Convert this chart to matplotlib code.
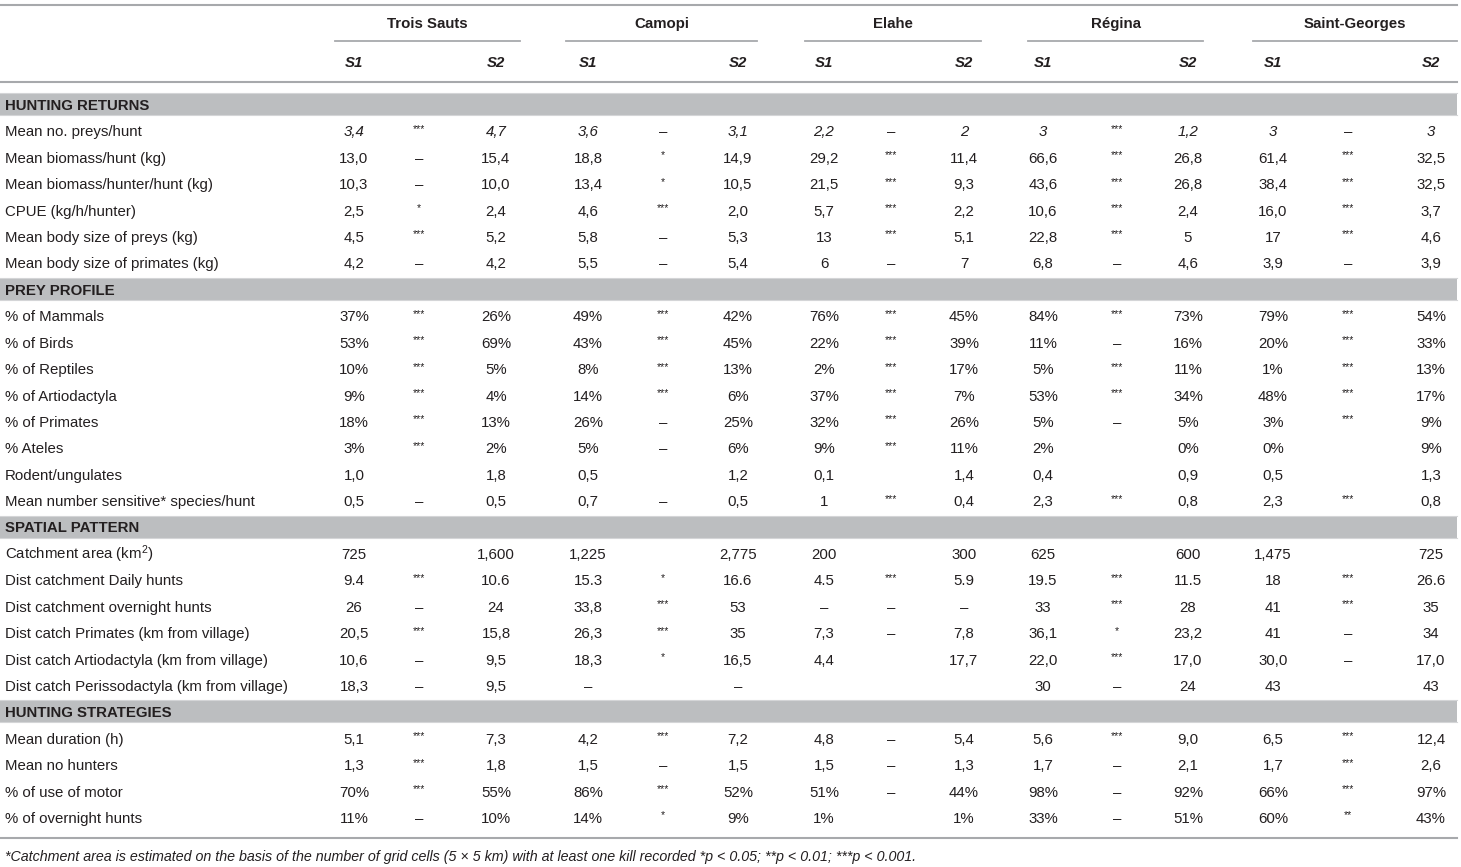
import matplotlib
matplotlib.use("Agg")
import matplotlib.pyplot as plt

plt.rcParams['font.family'] = ['Liberation Sans', 'DejaVu Sans']
plt.rcParams['mathtext.fontset'] = 'custom'
plt.rcParams['mathtext.rm'] = 'Liberation Sans'
plt.rcParams['mathtext.it'] = 'Liberation Sans:italic'

# ---- data ----
villages = ['Trois Sauts', 'Camopi', 'Elahe', 'Régina', 'Saint-Georges']

sections = ['HUNTING RETURNS', 'PREY PROFILE', 'SPATIAL PATTERN', 'HUNTING STRATEGIES']
section_sizes = [6, 8, 6, 4]

row_labels = [
    'Mean no. preys/hunt', 'Mean biomass/hunt (kg)', 'Mean biomass/hunter/hunt (kg)',
    'CPUE (kg/h/hunter)', 'Mean body size of preys (kg)', 'Mean body size of primates (kg)',
    '% of Mammals', '% of Birds', '% of Reptiles', '% of Artiodactyla', '% of Primates',
    '% Ateles', 'Rodent/ungulates', 'Mean number sensitive* species/hunt',
    'Catchment area (km$^{2}$)', 'Dist catchment Daily hunts', 'Dist catchment overnight hunts',
    'Dist catch Primates (km from village)', 'Dist catch Artiodactyla (km from village)',
    'Dist catch Perissodactyla (km from village)',
    'Mean duration (h)', 'Mean no hunters', '% of use of motor', '% of overnight hunts',
]

ts_s1 = ['3,4', '13,0', '10,3', '2,5', '4,5', '4,2', '37%', '53%', '10%', '9%', '18%', '3%',
         '1,0', '0,5', '725', '9.4', '26', '20,5', '10,6', '18,3', '5,1', '1,3', '70%', '11%']
ts_sig = ['***', '–', '–', '*', '***', '–', '***', '***', '***', '***', '***', '***',
          '', '–', '', '***', '–', '***', '–', '–', '***', '***', '***', '–']
ts_s2 = ['4,7', '15,4', '10,0', '2,4', '5,2', '4,2', '26%', '69%', '5%', '4%', '13%', '2%',
         '1,8', '0,5', '1,600', '10.6', '24', '15,8', '9,5', '9,5', '7,3', '1,8', '55%', '10%']

ca_s1 = ['3,6', '18,8', '13,4', '4,6', '5,8', '5,5', '49%', '43%', '8%', '14%', '26%', '5%',
         '0,5', '0,7', '1,225', '15.3', '33,8', '26,3', '18,3', '–', '4,2', '1,5', '86%', '14%']
ca_sig = ['–', '*', '*', '***', '–', '–', '***', '***', '***', '***', '–', '–',
          '', '–', '', '*', '***', '***', '*', '', '***', '–', '***', '*']
ca_s2 = ['3,1', '14,9', '10,5', '2,0', '5,3', '5,4', '42%', '45%', '13%', '6%', '25%', '6%',
         '1,2', '0,5', '2,775', '16.6', '53', '35', '16,5', '–', '7,2', '1,5', '52%', '9%']

el_s1 = ['2,2', '29,2', '21,5', '5,7', '13', '6', '76%', '22%', '2%', '37%', '32%', '9%',
         '0,1', '1', '200', '4.5', '–', '7,3', '4,4', '', '4,8', '1,5', '51%', '1%']
el_sig = ['–', '***', '***', '***', '***', '–', '***', '***', '***', '***', '***', '***',
          '', '***', '', '***', '–', '–', '', '', '–', '–', '–', '']
el_s2 = ['2', '11,4', '9,3', '2,2', '5,1', '7', '45%', '39%', '17%', '7%', '26%', '11%',
         '1,4', '0,4', '300', '5.9', '–', '7,8', '17,7', '', '5,4', '1,3', '44%', '1%']

re_s1 = ['3', '66,6', '43,6', '10,6', '22,8', '6,8', '84%', '11%', '5%', '53%', '5%', '2%',
         '0,4', '2,3', '625', '19.5', '33', '36,1', '22,0', '30', '5,6', '1,7', '98%', '33%']
re_sig = ['***', '***', '***', '***', '***', '–', '***', '–', '***', '***', '–', '',
          '', '***', '', '***', '***', '*', '***', '–', '***', '–', '–', '–']
re_s2 = ['1,2', '26,8', '26,8', '2,4', '5', '4,6', '73%', '16%', '11%', '34%', '5%', '0%',
         '0,9', '0,8', '600', '11.5', '28', '23,2', '17,0', '24', '9,0', '2,1', '92%', '51%']

sg_s1 = ['3', '61,4', '38,4', '16,0', '17', '3,9', '79%', '20%', '1%', '48%', '3%', '0%',
         '0,5', '2,3', '1,475', '18', '41', '41', '30,0', '43', '6,5', '1,7', '66%', '60%']
sg_sig = ['–', '***', '***', '***', '***', '–', '***', '***', '***', '***', '***', '',
          '', '***', '', '***', '***', '–', '–', '', '***', '***', '***', '**']
sg_s2 = ['3', '32,5', '32,5', '3,7', '4,6', '3,9', '54%', '33%', '13%', '17%', '9%', '9%',
         '1,3', '0,8', '725', '26.6', '35', '34', '17,0', '43', '12,4', '2,6', '97%', '43%']

footnote = ('*Catchment area is estimated on the basis of the number of grid cells (5 × 5 km) '
            'with at least one kill recorded *p < 0.05; **p < 0.01; ***p < 0.001.')

columns = [(ts_s1, ts_sig, ts_s2), (ca_s1, ca_sig, ca_s2), (el_s1, el_sig, el_s2),
           (re_s1, re_sig, re_s2), (sg_s1, sg_sig, sg_s2)]

# ---- layout (pixels) ----
x_s1 = [354, 588, 824, 1043, 1273]
x_sig = [419, 663, 891, 1117, 1348]
x_s2 = [496, 738, 964, 1188, 1431]
underline = [(335, 520), (566, 757), (805, 981), (1028, 1203), (1253, 1457)]
y0, dy = 104, 26.41
txt = '#231f20'
line_c = '#a7a9ac'
band_c = '#bcbec0'
fs = 10.8

fig = plt.figure(figsize=(14.61, 8.67), dpi=100)
ax = fig.add_axes([0, 0, 1, 1])
ax.set_xlim(0, 1461)
ax.set_ylim(867, 0)
ax.axis('off')

# header
ax.plot([0, 1457], [5, 5], color=line_c, lw=1.5)
ax.plot([0, 1457], [81.7, 81.7], color=line_c, lw=1.5)
for i, v in enumerate(villages):
    a, b = underline[i]
    ax.plot([a, b], [41, 41], color=line_c, lw=1.3)
    ax.text((a + b) / 2, 28.3, v, ha='center', va='baseline', fontsize=fs,
            fontweight='bold', color=txt)
    ax.text(x_s1[i], 66.7, 'S1', ha='center', va='baseline', fontsize=fs,
            fontweight='bold', style='italic', color=txt)
    ax.text(x_s2[i], 66.7, 'S2', ha='center', va='baseline', fontsize=fs,
            fontweight='bold', style='italic', color=txt)

# body
k = 0
r = 0
for s, n in zip(sections, section_sizes):
    yc = y0 + dy * k
    ax.fill_between([0, 1457], yc - 11, yc + 11, color=band_c, lw=0)
    ax.plot([0, 1457], [yc - 11, yc - 11], color='#d4d5d7', lw=0.8)
    ax.plot([0, 1457], [yc + 11, yc + 11], color='#d4d5d7', lw=0.8)
    ax.text(5, yc + 5.8, s, ha='left', va='baseline', fontsize=fs,
            fontweight='bold', color=txt)
    k += 1
    for _ in range(n):
        yc = y0 + dy * k
        yb = yc + 6
        st = 'italic' if r == 0 else 'normal'
        ax.text(5, yb, row_labels[r], ha='left', va='baseline', fontsize=fs, color=txt)
        for i, (c1, cs, c2) in enumerate(columns):
            ax.text(x_s1[i], yb, c1[r], ha='center', va='baseline', fontsize=fs,
                    style=st, color=txt)
            ax.text(x_s2[i], yb, c2[r], ha='center', va='baseline', fontsize=fs,
                    style=st, color=txt)
            if cs[r].startswith('*'):
                ax.text(x_sig[i], yc - 1.5, cs[r], ha='center', va='center',
                        fontsize=7.5, color=txt)
            else:
                ax.text(x_sig[i], yb, cs[r], ha='center', va='baseline',
                        fontsize=fs, color=txt)
        k += 1
        r += 1

ax.plot([0, 1457], [838, 838], color=line_c, lw=1.5)
ax.text(5, 860.5, footnote, ha='left', va='baseline', fontsize=10.3,
        style='italic', color=txt)

fig.savefig('out.png', dpi=100)
